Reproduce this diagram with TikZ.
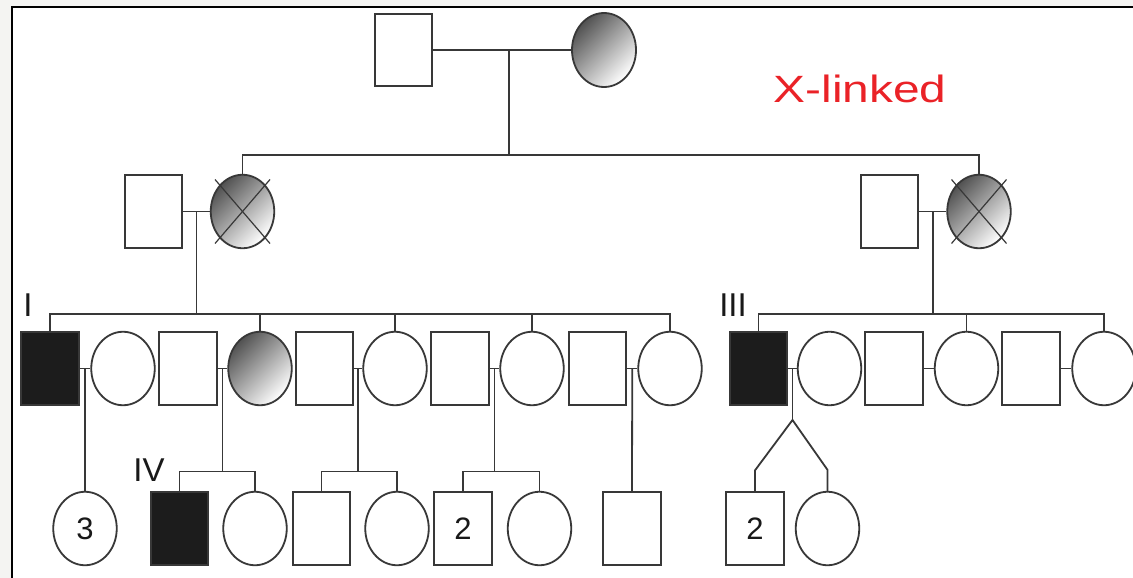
\documentclass[tikz,border=0pt]{standalone}
\usepackage{fontspec}
\setmainfont{Liberation Sans}
\usetikzlibrary{calc,shapes.geometric}
\definecolor{pedline}{HTML}{383838}
\definecolor{pedfill}{HTML}{1C1C1C}
\definecolor{pedpaper}{HTML}{F4F4F2}
\definecolor{pedred}{HTML}{EA2227}

\begin{document}
\begin{tikzpicture}[
  x=1pt, y=-1pt,
  male/.style={rectangle, draw=pedline, line width=1.8pt, fill=white, minimum width=57.5pt, minimum height=72.5pt, inner sep=0pt},
  female/.style={ellipse, draw=pedline, line width=1.8pt, fill=white, minimum width=63.5pt, minimum height=73.5pt, inner sep=0pt},
  affected/.style={male, fill=pedfill},
  carrier/.style={female, top color=black!68, bottom color=white, shading angle=45},
  link/.style={line width=1.8pt, color=pedline},
  cross/.style={line width=1.2pt, color=pedline},
  count/.style={font=\fontsize{31}{31}\selectfont, text=black!90},
  genlabel/.style={font=\fontsize{33}{33}\selectfont, text=black!90, inner sep=0pt},
]
\def\rowI{50}
\def\rowII{211.5}
\def\rowIII{368.5}
\def\rowIV{528.5}
\def\sibII{155}
\def\sibIII{314}
\def\sibIV{471.5}
\def\twin{420}
\useasboundingbox (0,0) rectangle (1133,578);
\clip (0,0) rectangle (1133,578);
\fill[pedpaper] (0,0) rectangle (1133,578);
\draw[black, line width=2pt, fill=white] (12,7) rectangle (1150,600);

% grandparents
\node[male, minimum width=57pt, minimum height=72pt] (gIm) at (403.5,\rowI) {};
\node[carrier, minimum width=64pt, minimum height=74pt] (gIf) at (604,\rowI) {};
\draw[link] (gIm.east) -- (gIf.west);
\coordinate (dI) at ($(gIm.east)!0.55!(gIf.west)$);
\coordinate (kI) at (dI |- 0,\sibII);

% carrier daughters and spouses
\node[male] (IIah) at (153.5,\rowII) {};
\node[carrier] (IIa) at (242.5,\rowII) {};
\node[male] (IIbh) at (889.5,\rowII) {};
\node[carrier] (IIb) at (979,\rowII) {};
\foreach \c in {IIa,IIb} {
  \draw[cross] ($(\c)+(-27.5,-32)$) -- ($(\c)+(27.5,32)$);
  \draw[cross] ($(\c)+(-27.5,32)$) -- ($(\c)+(27.5,-32)$);
}
\draw[link] (dI) -- (kI);
\draw[link] (IIa.north) |- (kI) -| (IIb.north);
\draw[link] (IIah.east) -- (IIa.west);
\draw[link] (IIbh.east) -- (IIb.west);
\coordinate (dIIa) at ($(IIah.east)!0.5!(IIa.west)$);
\coordinate (dIIb) at ($(IIbh.east)!0.5!(IIb.west)$);
\coordinate (kA) at (dIIa |- 0,\sibIII);
\coordinate (kB) at (dIIb |- 0,\sibIII);

% third row
\foreach \n/\xx/\kind in {1/50/affected, 2/123/female, 3/188/male, 4/260/carrier,
  5/324.5/male, 6/395/female, 7/460/male, 8/532/female, 9/597.5/male, 10/670/female}
  \node[style/.expanded=\kind] (a\n) at (\xx,\rowIII) {};
\foreach \n/\xx/\kind in {1/758.5/affected, 2/829.5/female, 3/894/male,
  4/966.5/female, 5/1031/male, 6/1104/female}
  \node[style/.expanded=\kind] (b\n) at (\xx,\rowIII) {};
\draw[link] (dIIa) -- (kA);
\draw[link] (a1.north) |- (kA) -| (a10.north);
\foreach \c in {a4,a6,a8}
  \draw[link] (\c.north) -- (\c.north |- kA);
\draw[link] (dIIb) -- (kB);
\draw[link] (b1.north) |- (kB) -| (b6.north);
\draw[link] (b4.north) -- (b4.north |- kB);
\foreach \m/\w/\j in {a1/a2/j1, a3/a4/j2, a5/a6/j3, a7/a8/j4, a9/a10/j5, b1/b2/jb, b3/b4/jc, b5/b6/jd} {
  \draw[link] (\m.east) -- (\w.west);
  \coordinate (\j) at ($(\m.east)!0.5!(\w.west)$);
}

\node[genlabel] (lI) at (28,305) {I};
\node[genlabel] (lIII) at (733,305) {III};
\node[genlabel] (lIV) at (149,470) {IV};

% fourth row
\foreach \n/\xx/\kind/\num in {1/85/female/3, 2/179.5/affected/, 3/255/female/,
  4/321.5/male/, 5/397/female/, 6/463/male/2, 7/539.5/female/, 8/632/male/,
  9/755/male/2, 10/827.5/female/}
  \node[style/.expanded=\kind, count] (c\n) at (\xx,\rowIV) {\num};
\draw[link] (j1) -- (c1.north);
\draw[link] (j5) -- (c8.north);
\foreach \j/\l/\r in {j2/c2/c3, j3/c4/c5, j4/c6/c7} {
  \coordinate (k\j) at (\j |- 0,\sibIV);
  \draw[link] (\j) -- (k\j);
  \draw[link] (\l.north) |- (k\j) -| (\r.north);
}
% twins
\coordinate (apex) at (jb |- 0,\twin);
\draw[link] (jb) -- (apex);
\draw[link] (c9.north) -- ++(0,-21) -- (apex) -- ($(c10.north)+(0,-21)$) -- (c10.north);

\node[font=\fontsize{38}{38}\selectfont, text=pedred, inner sep=0pt] (title) at (860,88.5) {\scalebox{1.26}[1]{X-linked}};
\end{tikzpicture}
\end{document}
